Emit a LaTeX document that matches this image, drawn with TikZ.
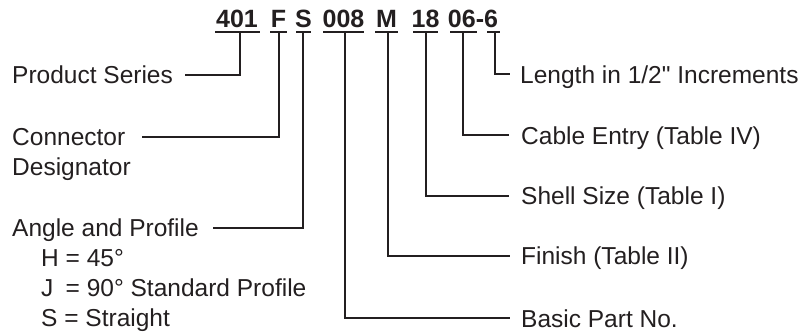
\documentclass[tikz,border=0pt]{standalone}
\usepackage{fontspec}
\setmainfont{Liberation Sans}
\newfontfamily\rawsans{Liberation Sans}
\definecolor{ink}{HTML}{231F20}
\begin{document}
\begin{tikzpicture}[x=1pt,y=-1pt,
  lbl/.style={anchor=base west,inner sep=0pt,text=ink,font=\fontsize{24.5}{30}\selectfont},
  code/.style={anchor=base,inner sep=0pt,text=ink,font=\fontsize{25}{30}\selectfont\bfseries},
  wire/.style={draw=ink,line width=1.9pt,line join=miter},
  ul/.style={draw=ink,line width=1.9pt}]
\useasboundingbox (0,0) rectangle (810,332);
% part number
\node[code] (g401) at (237,27) {401};
\node[code] (gF) at (278.5,27) {F};
\node[code] (gS) at (303.5,27) {S};
\node[code] (g008) at (343.5,27) {008};
\node[code] (gM) at (386.5,27) {M};
\node[code] (g18) at (425.5,27) {18};
\node[code] (g066) at (473,27) {06-6};
% underlines
\draw[ul] (215,32) -- (260,32);
\draw[ul] (270,32) -- (287,32);
\draw[ul] (296,32) -- (311,32);
\draw[ul] (323,32) -- (364,32);
\draw[ul] (375,32) -- (398,32);
\draw[ul] (413,32) -- (438,32);
\draw[ul] (450,32) -- (477,32);
\draw[ul] (487,32) -- (500,32);
\coordinate (t401) at (240,32);
\coordinate (tF) at (279,32);
\coordinate (tS) at (303,32);
\coordinate (t008) at (345,32);
\coordinate (tM) at (388,32);
\coordinate (t18) at (426,32);
\coordinate (t06) at (463,32);
\coordinate (t6) at (495,32);
% left labels
\node[lbl] (ps) at (12,83.5) {Product Series};
\node[lbl] (cd) at (12,145.5) {Connector};
\node[lbl] (dg) at (12,175.5) {Designator};
\node[lbl] (ap) at (12,236.5) {Angle and Profile};
\node[lbl] (oh) at (41,266.5) {H = 45°};
\node[lbl] (oj) at (41,296.5) {\makebox[\fontcharwd\font`H][l]{J} = 90° Standard Profile};
\node[lbl] (os) at (41,326.5) {S = Straight};
% right labels
\node[lbl] (len) at (520,83) {Length in 1/2{\rawsans"} Increments};
\node[lbl] (ce) at (521,144) {Cable Entry (Table IV)};
\node[lbl] (ss) at (521,204.5) {Shell Size (Table I)};
\node[lbl] (fn) at (521,264.5) {Finish (Table II)};
\node[lbl] (bp) at (521,327) {Basic Part No.};
% connectors
\draw[wire] (t401) |- ([xshift=12pt,yshift=8.75pt]ps.base east);
\draw[wire] (tF) |- ([xshift=17pt,yshift=8.75pt]cd.base east);
\draw[wire] (tS) |- ([xshift=14pt,yshift=8.75pt]ap.base east);
\draw[wire] (t6) |- ([xshift=-10pt,yshift=8.75pt]len.base west);
\draw[wire] (t06) |- ([xshift=-12pt,yshift=8.75pt]ce.base west);
\draw[wire] (t18) |- ([xshift=-12pt,yshift=8.75pt]ss.base west);
\draw[wire] (tM) |- ([xshift=-11pt,yshift=8.75pt]fn.base west);
\draw[wire] (t008) |- ([xshift=-11pt,yshift=8.75pt]bp.base west);
\end{tikzpicture}
\end{document}
